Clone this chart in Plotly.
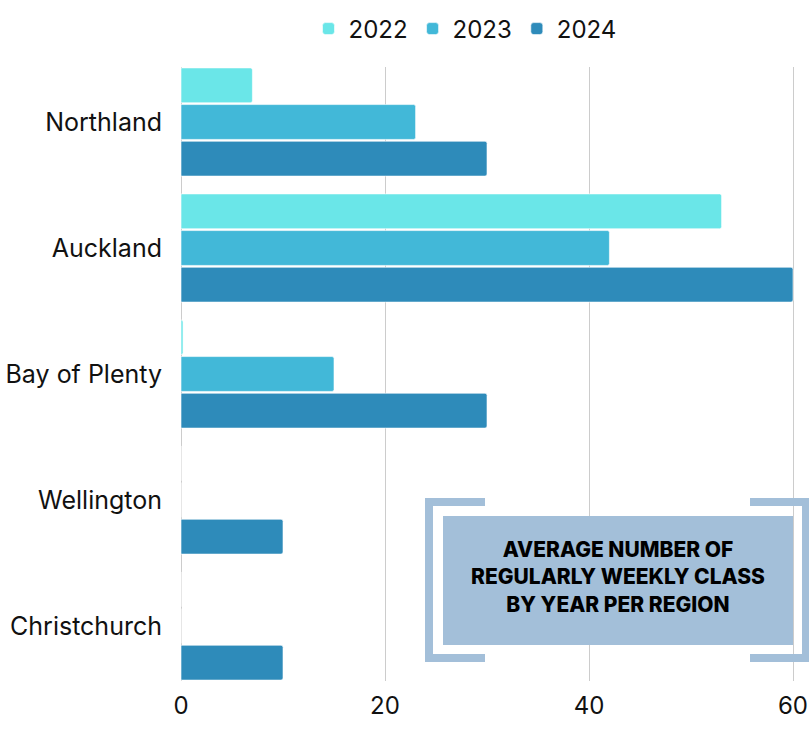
import plotly.graph_objects as go

regions = ["Northland", "Auckland", "Bay of Plenty", "Wellington", "Christchurch"]
years = ["2022", "2023", "2024"]
values_2022 = [7, 53, 0.2, 0, 0]
values_2023 = [23, 42, 15, 0, 0]
values_2024 = [30, 60, 30, 10, 10]
x_ticks = [0, 20, 40, 60]

colors = ["#6ae6e8", "#42b8d8", "#2e8bba"]
series = [values_2022, values_2023, values_2024]

W, H = 810, 731
L, R, T, B = 181, 810, 67, 681  # plot area in page pixels


def px(x):
    return (x - L) / (R - L)


def py(y):
    return (B - y) / (B - T)


fig = go.Figure()
for year, vals, col in zip(years, series, colors):
    fig.add_trace(
        go.Bar(
            y=regions,
            x=vals,
            name=year,
            orientation="h",
            marker=dict(color=col, cornerradius=2, line=dict(color="rgba(255,255,255,0.6)", width=1)),
        )
    )

gap = 0.127
box = "#a3bfd9"


def block(x0, x1, y0, y1):
    return dict(type="rect", xref="paper", yref="paper", x0=px(x0), x1=px(x1), y0=py(y1), y1=py(y0),
                fillcolor=box, line=dict(width=0), layer="above")


shapes = [
    block(443, 793, 516, 645),  # title box
    # left bracket
    block(425, 433, 498, 662),
    block(425, 485, 498, 506),
    block(425, 485, 654, 662),
    # right bracket
    block(802, 809, 498, 662),
    block(750, 809, 498, 506),
    block(750, 809, 654, 662),
]

fig.update_layout(
    width=W,
    height=H,
    margin=dict(l=L, r=W - R, t=T, b=H - B, pad=0, autoexpand=False),
    plot_bgcolor="white",
    paper_bgcolor="white",
    font=dict(family="Inter", size=24, color="#111111"),
    barmode="group",
    bargap=gap,
    bargroupgap=0.05,
    showlegend=True,
    legend=dict(
        orientation="h",
        x=px(465),
        xanchor="center",
        y=py(29),
        yanchor="middle",
        font=dict(size=24),
        itemwidth=30,
        traceorder="normal",
    ),
    shapes=shapes,
    annotations=[
        dict(
            text="AVERAGE NUMBER OF<br>REGULARLY WEEKLY CLASS<br>BY YEAR PER REGION",
            xref="paper",
            yref="paper",
            x=px(618),
            y=py(577),
            xanchor="center",
            yanchor="middle",
            showarrow=False,
            align="center",
            font=dict(family="Inter", size=21, color="#000000", weight=800),
        )
    ],
)
fig.update_xaxes(
    range=[0, (R - L) / 10.2],
    tickvals=x_ticks,
    showgrid=True,
    gridcolor="#cccccc",
    gridwidth=1,
    zeroline=True,
    zerolinecolor="#cccccc",
    zerolinewidth=1,
    showline=False,
    automargin=False,
    ticklabelstandoff=8,
)
fig.update_yaxes(
    range=[4.5 - gap / 2, -0.5 + gap / 2],
    tickfont=dict(size=25),
    showgrid=False,
    zeroline=False,
    showline=False,
    automargin=False,
    ticklabelstandoff=18,
)

# drop the page's default body margin so the figure fills the window
fig.write_html(
    "out.html",
    config={"displayModeBar": False},
    post_script="document.body.style.margin='0';",
)
